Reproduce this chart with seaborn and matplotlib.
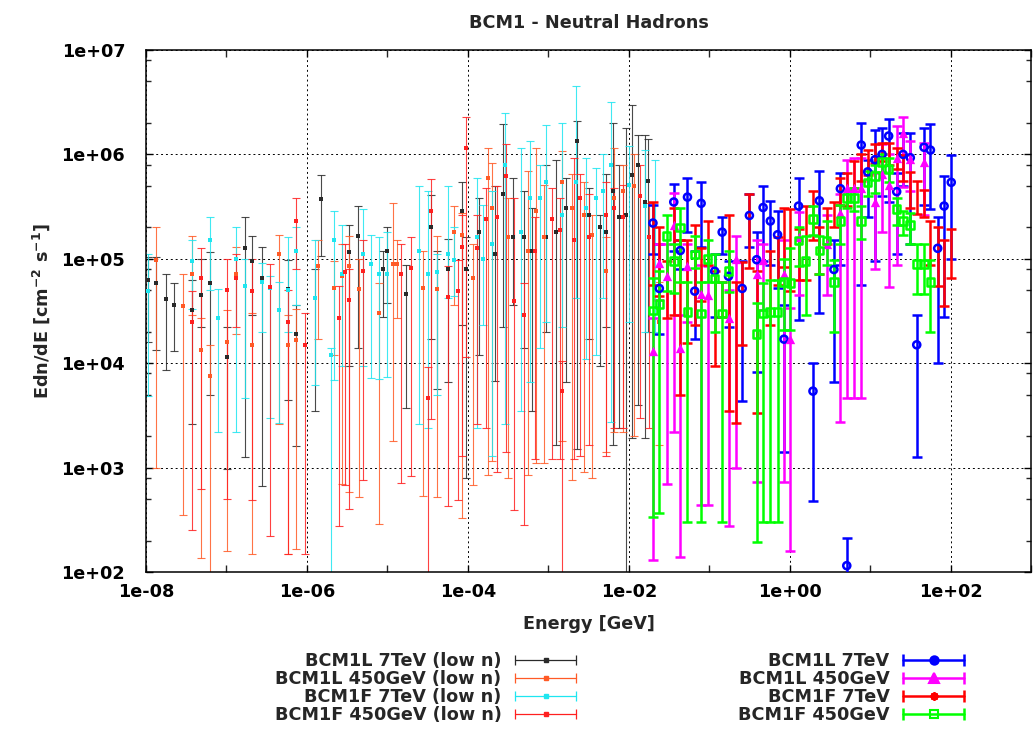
import numpy as np
import matplotlib
matplotlib.use("Agg")
import matplotlib.pyplot as plt
import seaborn as sns
from matplotlib.lines import Line2D
from matplotlib.legend_handler import HandlerLine2D
from matplotlib.ticker import LogLocator, FuncFormatter, NullFormatter

NA = np.nan

# ---- low statistics samples (each with its own energy points) ----
l7_low_e = [1.05e-8, 1.35e-8, 1.78e-8, 2.24e-8, 3.7e-8, 4.8e-8, 6.2e-8, 1.02e-7, 1.7e-7, 2.1e-7,
            2.75e-7, 5.75e-7, 7.4e-7, 1.26e-6, 1.5e-6, 3.3e-6, 4.3e-6, 8.9e-6, 1.0e-5, 1.7e-5,
            3.5e-5, 4.1e-5, 5.6e-5, 8.5e-5, 9.5e-5, 1.38e-4, 2.2e-4, 2.7e-4, 3.6e-4, 5.0e-4,
            6.2e-4, 9.3e-4, 1.26e-3, 1.66e-3, 2.3e-3, 3.2e-3, 4.4e-3, 5.2e-3, 6.3e-3, 7.6e-3,
            9.3e-3, 1.1e-2, 1.3e-2, 1.58e-2, 1.74e-2]
l7_low_y = [6.3e4, 5.9e4, 4.1e4, 3.6e4, 3.2e4, 4.5e4, 5.9e4, 1.15e4, 1.26e5, 9.5e4,
            6.6e4, 5.1e4, 1.9e4, 4.2e4, 3.7e5, 1.15e5, 1.66e5, 7.9e4, 1.2e5, 4.6e4,
            2.0e5, 7.4e4, 7.9e4, 2.9e5, 7.9e4, 1.8e5, 1.1e5, 4.2e5, 1.6e5, 1.6e5,
            1.2e5, 1.6e5, 1.8e5, 3.1e5, 1.35e6, 2.6e5, 2.0e5, 1.8e5, 4.5e5, 2.5e5,
            2.6e5, 6.3e5, 7.9e5, 3.5e5, 5.6e5]
l7_low_hi = [1.05e5, 1.05e5, 7.2e4, 5.8e4, 6.2e4, 1.0e5, 1.15e5, 2.2e4, 2.5e5, 1.66e5,
             1.3e5, 9.8e4, 3.6e4, 7.9e4, 6.3e5, 2.1e5, 3.2e5, 1.2e5, 2.0e5, 8.7e4,
             4.1e5, 1.2e5, 1.55e5, 5.5e5, 1.6e5, 3.8e5, 5.0e5, 1.95e6, 6.0e5, 4.5e5,
             3.1e5, 7.9e5, 8.9e5, 6.0e5, 2.1e6, 4.8e5, 2.6e5, 6.5e5, 2.0e6, 7.9e5,
             1.8e6, 2.95e6, 1.55e6, 1.55e6, 1.4e6]
l7_low_lo = [1.6e4, 1.35e4, 8.7e3, 1.3e4, 2.6e3, 2.2e4, 5.0e3, 9.8e2, 1.26e3, 2.9e4,
             6.6e2, 4.4e3, 1.6e3, 3.5e3, 1.07e5, 9.5e3, 1.4e4, 2.8e4, 3.8e4, 3.7e3,
             1.7e4, 5.6e3, 6.6e3, 2.3e4, 7.9e2, 1.2e4, 6.8e3, 2.2e4, 3.6e4, 1.4e4,
             3.5e3, 2.0e4, 1.66e3, 6.6e3, 1.5e3, 1.7e4, 9.5e3, 2.2e4, 1.66e3, 2.4e3,
             60, 1.9e3, 4.0e3, 1.9e3, 2.0e4]

l450_low_e = [1.35e-8, 2.9e-8, 3.7e-8, 4.8e-8, 6.2e-8, 1.02e-7, 1.3e-7, 2.1e-7, 4.5e-7, 5.75e-7,
              7.4e-7, 1.38e-6, 2.2e-6, 2.75e-6, 3.3e-6, 4.5e-6, 7.9e-6, 1.17e-5, 1.3e-5, 2.8e-5,
              4.1e-5, 6.8e-5, 8.5e-5, 1.15e-4, 1.78e-4, 2.0e-4, 3.2e-4, 5.6e-4, 7.1e-4, 8.9e-4,
              1.5e-3, 2.0e-3, 2.8e-3, 3.5e-3, 5.2e-3, 6.6e-3, 8.5e-3, 1.17e-2, 2.4e-2]
l450_low_y = [9.8e4, 3.5e4, 7.2e4, 1.35e4, 7.6e3, 1.6e4, 7.2e4, 1.5e4, 1.1e5, 1.5e4,
              1.66e4, 8.5e4, 5.2e4, 6.9e4, 8.5e4, 5.1e4, 3.0e4, 8.9e4, 8.9e4, 5.2e4,
              5.1e4, 1.8e5, 1.7e5, 6.6e4, 6.0e5, 3.1e5, 1.6e5, 1.2e5, 2.9e5, 1.6e5,
              5.5e5, 3.1e5, 2.6e5, 1.7e5, 7.6e4, 3.8e5, 4.5e5, 5.0e5, 2.5e4]
l450_low_hi = [2.0e5, 7.1e4, 1.66e5, 2.7e4, 1.5e4, 3.2e4, 1.3e5, 3.0e4, 1.7e5, 2.9e4,
               3.3e4, 1.5e5, 9.5e4, 1.4e5, 1.66e5, 1.0e5, 5.9e4, 3.4e5, 1.5e5, 1.2e5,
               1.66e5, 3.2e5, 2.75e5, 1.4e5, 1.15e6, 8.3e5, 3.8e5, 6.9e5, 1.15e6, 5.1e5,
               1.07e6, 6.5e5, 5.5e5, 2.6e5, 1.6e5, 1.15e6, 7.9e5, 1.0e6, 6.0e4]
l450_low_lo = [1.0e3, 3.5e2, 2.9e4, 1.35e2, 80, 1.6e2, 1.9e4, 1.5e2, 2.6e3, 1.5e2,
               1.66e2, 1.7e4, 1.2e4, 6.9e2, 5.8e2, 5.2e2, 2.9e2, 1.8e3, 2.7e4, 5.4e2,
               5.2e2, 3.6e4, 3.3e2, 6.8e2, 8.5e2, 1.15e3, 7.9e2, 8.5e2, 1.1e3, 1.1e3,
               1.8e3, 7.6e2, 9.1e2, 7.9e2, 1.4e3, 2.2e3, 2.2e3, 2.0e3, 1.66e3]

f7_low_e = [1.05e-8, 3.7e-8, 6.2e-8, 7.9e-8, 1.3e-7, 1.7e-7, 2.75e-7, 3.5e-7, 4.5e-7, 5.75e-7,
            7.4e-7, 1.26e-6, 2.0e-6, 2.2e-6, 2.75e-6, 5.0e-6, 6.3e-6, 7.9e-6, 1.0e-5, 2.45e-5,
            3.2e-5, 4.1e-5, 5.6e-5, 6.8e-5, 1.3e-4, 1.55e-4, 2.0e-4, 2.9e-4, 4.6e-4, 5.9e-4,
            7.8e-4, 9.3e-4, 1.5e-3, 2.2e-3, 2.95e-3, 3.9e-3, 4.8e-3, 6.0e-3, 1.02e-2, 1.58e-2,
            2.1e-2]
f7_low_y = [4.9e4, 9.5e4, 1.5e5, 2.7e4, 1.0e5, 5.5e4, 6.0e4, 5.2e4, 3.2e4, 5.0e4,
            1.2e5, 4.2e4, 1.2e4, 1.5e5, 7.1e4, 1.1e5, 8.9e4, 7.1e4, 7.1e4, 1.2e5,
            7.2e4, 7.4e4, 1.1e5, 9.8e4, 1.6e5, 1.0e5, 1.4e5, 7.9e5, 1.8e5, 3.8e5,
            3.8e5, 5.5e5, 2.6e5, 5.5e5, 3.1e5, 3.8e5, 4.5e5, 7.9e5, 5.1e5, 3.2e5,
            2.0e5]
f7_low_hi = [1.1e5, 1.5e5, 2.5e5, 5.1e4, 2.0e5, 1.0e5, 9.1e4, 6.9e4, 6.0e4, 1.6e5,
             2.0e5, 1.5e5, 1.4e4, 2.9e5, 2.1e5, 3.0e5, 1.7e5, 1.6e5, 1.8e5, 5.0e5,
             4.5e5, 1.1e5, 5.0e5, 2.0e5, 6.0e5, 3.3e5, 4.5e5, 2.5e6, 1.15e6, 1.35e6,
             7.9e5, 1.9e6, 2.0e6, 4.5e6, 9.3e5, 7.4e5, 1.0e6, 3.2e6, 1.2e6, 1.1e6,
             8.9e5]
f7_low_lo = [4.8e3, 3.3e4, 5.0e4, 2.2e3, 2.2e3, 4.6e3, 2.0e4, 3.0e3, 2.7e3, 2.0e4,
             3.6e4, 6.2e3, 63, 6.9e3, 9.3e3, 9.3e3, 7.2e3, 7.1e3, 7.4e3, 2.6e3,
             2.4e3, 5.0e3, 4.2e4, 4.4e4, 2.4e3, 2.3e4, 1.3e3, 2.6e3, 3.5e3, 6.6e3,
             1.4e4, 2.5e4, 2.2e4, 4.2e4, 1.1e4, 1.2e4, 4.2e4, 2.75e3, 2.5e4, 2.0e4,
             2.0e4]

f450_low_e = [3.7e-8, 4.8e-8, 1.02e-7, 1.3e-7, 2.1e-7, 3.5e-7, 5.75e-7, 7.4e-7, 9.5e-7, 2.5e-6,
              3.0e-6, 3.3e-6, 5.0e-6, 1.48e-5, 1.95e-5, 3.2e-5, 3.5e-5, 5.6e-5, 7.6e-5, 8.5e-5,
              9.5e-5, 1.3e-4, 1.7e-4, 2.3e-4, 3.0e-4, 3.8e-4, 5.0e-4, 6.8e-4, 1.1e-3, 1.4e-3,
              1.5e-3, 2.1e-3, 2.45e-3, 3.2e-3, 5.2e-3, 6.6e-3, 8.5e-3, 1.38e-2, 1.8e-2]
f450_low_y = [2.5e4, 6.5e4, 5.0e4, 6.6e4, 4.9e4, 5.4e4, 2.5e4, 2.3e5, 1.5e4, 2.7e4,
              7.4e4, 4.0e4, 7.6e4, 7.1e4, 8.1e4, 4.6e3, 2.9e5, 4.3e4, 4.9e4, 1.3e5,
              1.15e6, 1.26e5, 2.4e5, 2.5e5, 6.2e5, 3.9e4, 2.9e4, 1.2e5, 2.4e5, 1.9e5,
              5.4e3, 1.5e5, 3.8e5, 1.6e5, 2.6e5, 3.1e5, 2.5e5, 4.0e5, 1.6e5]
f450_low_hi = [4.9e4, 1.26e5, 1.0e5, 1.1e5, 1.0e5, 8.9e4, 5.0e4, 3.8e5, 3.0e4, 5.5e4,
               1.4e5, 7.9e4, 1.5e5, 1.4e5, 1.6e5, 9.1e3, 5.75e5, 8.5e4, 9.8e4, 2.6e5,
               2.3e6, 2.6e5, 4.8e5, 5.0e5, 1.26e6, 3.8e5, 5.9e4, 2.5e5, 4.8e5, 3.8e5,
               1.05e4, 9.3e5, 6.5e5, 4.2e5, 5.5e5, 4.8e5, 5.1e5, 8.0e5, 3.4e5]
f450_low_lo = [2.5e2, 6.3e2, 5.0e2, 2.2e4, 4.9e2, 2.2e2, 1.5e2, 7.9e4, 1.5e2, 2.75e2,
               6.8e2, 4.0e2, 7.6e2, 7.1e2, 8.3e2, 30, 2.9e3, 4.3e2, 4.9e2, 1.3e3,
               1.15e4, 2.6e3, 2.4e3, 9.1e2, 1.4e3, 3.9e2, 2.8e2, 1.2e3, 1.2e3, 1.2e3,
               30, 1.2e3, 1.3e3, 1.66e3, 1.3e3, 2.4e3, 2.4e3, 3.0e3, 2.4e3]

# ---- full statistics samples, common energy bins ----
energy_high = [0.0200, 0.0240, 0.0295, 0.0363, 0.0437, 0.0537, 0.0661, 0.0794, 0.0955, 0.117,
               0.145, 0.174, 0.214, 0.257, 0.316, 0.389, 0.468, 0.575, 0.708, 0.851,
               1.02, 1.29, 1.58, 1.95, 2.34, 2.88, 3.55, 4.27, 5.13, 6.31,
               7.76, 9.33, 11.5, 14.1, 17.0, 21.4, 25.7, 31.6, 38.0, 46.8,
               56.2, 69.2, 83.2, 102]

l7_y = [2.2e5, 5.2e4, NA, 3.5e5, 1.2e5, 3.9e5, 4.9e4, 3.4e5, NA, 7.6e4,
        1.8e5, 6.8e4, NA, 5.2e4, 2.6e5, 9.8e4, 3.1e5, 2.3e5, 1.7e5, 1.7e4,
        NA, 3.2e5, NA, 5.4e3, 3.6e5, NA, 7.9e4, 4.7e5, 1.15e2, NA,
        1.23e6, 6.8e5, 8.9e5, 1.0e6, 1.5e6, 4.4e5, 1.0e6, 9.3e5, 1.5e4, 1.17e6,
        1.1e6, 1.26e5, 3.2e5, 5.4e5]
l7_hi = [3.3e5, 1.4e5, NA, 5.2e5, 1.5e5, 6.0e5, 1.2e5, 5.4e5, NA, 1.1e5,
         2.5e5, 9.5e4, NA, 9.5e4, 4.2e5, 1.8e5, 5.0e5, 3.6e5, 2.9e5, 3.6e4,
         NA, 6.0e5, NA, 1.0e4, 6.9e5, NA, 1.5e5, 6.6e5, 2.1e2, NA,
         2.0e6, 8.9e5, 1.7e6, 1.8e6, 2.2e6, 6.6e5, 1.6e6, 1.6e6, 2.9e4, 1.8e6,
         1.95e6, 2.5e5, 6.2e5, 9.8e5]
l7_lo = [1.1e5, 1.9e4, NA, 1.2e5, 7.9e4, 1.8e5, 1.7e4, 1.3e5, NA, 2.8e4,
         1.1e5, 2.2e4, NA, 4.3e3, 1.3e5, 8.3e3, 9.5e4, 8.7e4, 5.2e4, 1.4e3,
         NA, 2.6e4, NA, 4.8e2, 3.0e4, NA, 6.6e3, 8.7e4, 80, NA,
         5.6e4, 2.5e5, 9.5e4, 4.0e5, 3.5e5, 1.1e5, 5.0e5, 1.4e5, 1.26e3, 3.3e5,
         3.0e5, 1.0e4, 2.75e4, 1.0e5]

l450_y = [1.3e4, 9.1e4, 6.8e4, 2.1e5, 1.4e4, 8.5e4, NA, 4.6e4, 4.5e4, NA,
          NA, 2.7e4, 1.0e5, NA, NA, 7.2e4, 9.8e4, NA, NA, 7.2e4,
          1.7e4, 1.6e5, NA, NA, NA, 1.4e5, NA, 2.75e5, 4.8e5, 4.8e5,
          4.8e5, NA, 3.5e5, 6.5e5, 5.1e5, 9.3e5, 1.6e6, 9.1e5, NA, 8.5e5,
          NA, NA, NA, NA]
l450_hi = [2.7e4, 1.4e5, 1.4e5, 4.3e5, 2.9e4, 1.4e5, NA, 8.7e4, 8.5e4, NA,
           NA, 5.0e4, 1.66e5, NA, NA, 1.5e5, 1.4e5, NA, NA, 1.5e5,
           3.4e4, 2.8e5, NA, NA, NA, 2.6e5, NA, 4.2e5, 8.9e5, 9.3e5,
           9.3e5, NA, 6.6e5, 1.26e6, 1.0e6, 1.86e6, 2.3e6, 1.35e6, NA, 1.3e6,
           NA, NA, NA, NA]
l450_lo = [1.3e2, 4.0e4, 6.9e2, 2.2e3, 1.4e2, 2.5e4, NA, 4.4e2, 4.4e2, NA,
           NA, 2.75e2, 1.0e3, NA, NA, 7.2e2, 3.2e4, NA, NA, 7.2e2,
           1.6e2, 4.5e4, NA, NA, NA, 4.5e4, NA, 2.75e3, 4.6e3, 4.6e3,
           4.6e3, NA, 7.9e4, 1.8e5, 5.4e4, 8.7e4, 4.9e5, 4.5e5, NA, 2.6e5,
           NA, NA, NA, NA]

f7_y = [2.3e5, 1.26e5, 7.2e4, 2.0e5, 6.0e4, 8.3e4, 1.4e5, 7.2e4, 1.55e5, 4.2e4,
        4.4e4, 1.6e5, 3.2e4, 5.4e4, 2.6e5, 4.1e4, NA, 6.6e4, 9.5e4, 2.1e5,
        1.6e5, 1.26e5, 2.2e5, 3.5e5, 1.4e5, 2.2e5, 2.6e5, 4.7e5, 5.1e5, 6.6e5,
        7.9e5, 8.9e5, 1.1e6, 1.1e6, 1.1e6, 9.5e5, 7.8e5, 5.1e5, 4.1e5, 3.5e5,
        1.66e5, 1.26e5, 9.5e4, 1.3e5]
f7_hi = [3.5e5, 2.0e5, 9.5e4, 3.1e5, 1.5e5, 1.5e5, 2.1e5, 1.26e5, 2.3e5, 7.6e4,
         6.0e4, 2.6e5, 6.0e4, 9.3e4, 4.2e5, 7.6e4, NA, 1.2e5, 1.6e5, 3.1e5,
         3.0e5, 1.95e5, 3.2e5, 4.5e5, 2.0e5, 3.1e5, 3.5e5, 6.0e5, 6.6e5, 8.7e5,
         1.0e6, 1.1e6, 1.26e6, 1.3e6, 1.3e6, 1.15e6, 9.8e5, 6.8e5, 5.6e5, 4.6e5,
         2.3e5, 2.0e5, 1.5e5, 1.95e5]
f7_lo = [5.6e4, 4.4e4, 2.7e4, 2.9e4, 5.0e3, 1.55e4, 2.3e4, 3.9e4, 8.7e4, 9.5e3,
         2.8e4, 3.5e3, 2.7e3, 1.5e4, 8.1e4, 3.3e3, NA, 2.3e4, 5.6e4, 8.3e4,
         4.9e4, 6.3e4, 6.3e4, 1.5e5, 7.2e4, 1.4e5, 2.0e5, 3.3e5, 3.2e5, 4.8e5,
         5.6e5, 6.3e5, 8.3e5, 8.7e5, 7.9e5, 7.2e5, 5.6e5, 3.1e5, 2.7e5, 2.5e5,
         8.7e4, 5.5e4, 3.5e4, 6.6e4]

f450_y = [3.2e4, 3.7e4, 1.66e5, 9.5e4, 2.0e5, 3.1e4, 1.1e5, 3.0e4, 1.0e5, 6.5e4,
          3.0e4, 7.6e4, NA, NA, NA, 1.9e4, 3.0e4, 3.1e4, 3.1e4, 6.0e4,
          5.9e4, 1.5e5, 9.5e4, 2.4e5, 1.2e5, 1.5e5, 6.0e4, 2.3e5, 3.8e5, 3.8e5,
          2.3e5, 5.4e5, 6.2e5, 8.5e5, 7.2e5, 3.0e5, 2.3e5, 2.1e5, 8.9e4, 8.9e4,
          6.0e4, NA, NA, NA]
f450_hi = [6.6e4, 7.6e4, 2.6e5, 1.4e5, 3.1e5, 6.0e4, 1.66e5, 6.0e4, 1.5e5, 1.1e5,
           6.0e4, 1.2e5, NA, NA, NA, 3.8e4, 5.9e4, 6.2e4, 6.2e4, 1.0e5,
           1.26e5, 2.0e5, 1.66e5, 3.2e5, 1.66e5, 2.3e5, 9.8e4, 3.3e5, 4.6e5, 4.8e5,
           3.2e5, 6.9e5, 7.9e5, 1.0e6, 9.3e5, 3.8e5, 2.9e5, 2.75e5, 1.4e5, 1.4e5,
           9.8e4, NA, NA, NA]
f450_lo = [3.4e2, 3.7e2, 4.9e4, 4.7e4, 6.0e4, 3.0e2, 8.1e4, 3.0e2, 6.0e4, 2.0e4,
           3.0e2, 4.8e4, NA, NA, NA, 1.95e2, 3.0e2, 3.0e2, 3.0e2, 2.1e4,
           2.1e4, 8.5e4, 2.9e4, 1.7e5, 7.2e4, 8.7e4, 2.0e4, 1.4e5, 3.1e5, 2.9e5,
           1.55e5, 4.0e5, 4.3e5, 6.8e5, 5.5e5, 2.1e5, 1.7e5, 1.4e5, 4.6e4, 4.6e4,
           2.0e4, NA, NA, NA]

low_series = [
    ("BCM1L 7TeV (low n)", l7_low_e, l7_low_y, l7_low_lo, l7_low_hi, "#2a2a2a"),
    ("BCM1L 450GeV (low n)", l450_low_e, l450_low_y, l450_low_lo, l450_low_hi, "#ff5a26"),
    ("BCM1F 7TeV (low n)", f7_low_e, f7_low_y, f7_low_lo, f7_low_hi, "#1ee6f0"),
    ("BCM1F 450GeV (low n)", f450_low_e, f450_low_y, f450_low_lo, f450_low_hi, "#ff2020"),
]
# label, y, lo, hi, colour, marker, size, filled
high_series = [
    ("BCM1L 7TeV", l7_y, l7_lo, l7_hi, "#0000ff", "o", 26, False),
    ("BCM1L 450GeV", l450_y, l450_lo, l450_hi, "#ff00ff", "^", 45, True),
    ("BCM1F 7TeV", f7_y, f7_lo, f7_hi, "#ff0000", (8, 2, 0), 55, False),
    ("BCM1F 450GeV", f450_y, f450_lo, f450_hi, "#00ff00", "s", 30, False),
]

sns.set_theme(style="ticks", rc={
    "xtick.direction": "in", "ytick.direction": "in",
    "xtick.top": True, "ytick.right": True,
    "axes.edgecolor": "black", "axes.linewidth": 1.1,
})
plt.rcParams["font.family"] = ["DejaVu Sans"]
plt.rcParams["font.weight"] = "bold"
plt.rcParams["font.size"] = 12.7

fig = plt.figure(figsize=(10.33, 7.34), dpi=100)
ax = fig.add_axes([146 / 1033, 162 / 734, 885 / 1033, 522 / 734])
ax.set_xscale("log")
ax.set_yscale("log")

low_handles, low_labels, hmap = [], [], {}
for label, e, y, lo, hi, col in low_series:
    e, y, lo, hi = map(np.asarray, (e, y, lo, hi))
    ax.errorbar(e, y, yerr=[y - lo, hi - y], fmt="none", ecolor=col, elinewidth=0.8,
                capsize=3.0, capthick=0.8, alpha=0.85, zorder=2)
    sns.scatterplot(x=e, y=y, ax=ax, marker="s", s=6, color=col, edgecolor=col,
                    linewidth=0, zorder=3, legend=False)
    cap = Line2D([], [], color=col, lw=0.9, marker="|", markersize=7, markeredgewidth=0.9)
    dot = Line2D([], [], color=col, linestyle="none", marker="s", markersize=2.5)
    hmap[cap] = HandlerLine2D(numpoints=2, marker_pad=0)
    hmap[dot] = HandlerLine2D(numpoints=1)
    low_handles.append((cap, dot))
    low_labels.append(label)

e_hi = np.asarray(energy_high)
high_handles, high_labels = [], []
for label, y, lo, hi, col, mk, size, filled in high_series:
    y, lo, hi = map(np.asarray, (y, lo, hi))
    ax.errorbar(e_hi, y, yerr=[y - lo, hi - y], fmt="none", ecolor=col, elinewidth=1.8,
                capsize=3.6, capthick=1.8, zorder=4)
    ok = ~np.isnan(y)
    sns.scatterplot(x=e_hi[ok], y=y[ok], ax=ax, marker=mk, s=size,
                    facecolor=col if filled else "none", edgecolor=col,
                    linewidth=0 if filled else 1.8, zorder=5, legend=False)
    cap = Line2D([], [], color=col, lw=1.8, marker="|", markersize=8, markeredgewidth=1.8)
    dot = Line2D([], [], color=col, linestyle="none", marker=mk, markersize=7 if filled else 6,
                 markerfacecolor=col if mk in ("o", "^") else "none",
                 markeredgecolor=col, markeredgewidth=1.5)
    hmap[cap] = HandlerLine2D(numpoints=2, marker_pad=0)
    hmap[dot] = HandlerLine2D(numpoints=1)
    high_handles.append((cap, dot))
    high_labels.append(label)

ax.set_xlim(1e-8, 1e3)
ax.set_ylim(1e2, 1e7)


def exp_label(v, pos):
    # gnuplot style "1e-08"; blank for anything outside the axis range
    if v < 0.99e-8 or v > 1.01e7:
        return ""
    return f"{v:.0e}"


fmt = FuncFormatter(exp_label)
ax.xaxis.set_major_locator(LogLocator(base=100.0, numticks=20))
ax.xaxis.set_minor_locator(LogLocator(base=100.0, subs=(10.0,), numticks=20))
ax.xaxis.set_major_formatter(fmt)
ax.xaxis.set_minor_formatter(NullFormatter())
ax.yaxis.set_major_locator(LogLocator(base=10.0, numticks=20))
ax.yaxis.set_minor_locator(LogLocator(base=10.0, subs=(2.0, 5.0, 8.0), numticks=20))
ax.yaxis.set_major_formatter(fmt)
ax.yaxis.set_minor_formatter(NullFormatter())
ax.tick_params(axis="both", which="major", length=5, width=1.0, labelsize=12.7, colors="black")
ax.tick_params(axis="x", which="minor", length=5, width=1.0)
ax.tick_params(axis="y", which="minor", length=3.5, width=1.0)
ax.tick_params(axis="x", which="major", pad=8)
ax.tick_params(axis="y", which="major", pad=15)
ax.grid(True, which="major", color="black", linestyle=(0, (2, 3)), linewidth=0.7)

ax.set_title("BCM1 - Neutral Hadrons", fontsize=12.7, fontweight="bold", pad=16)
ax.set_xlabel("Energy [GeV]", fontsize=12.7, fontweight="bold", labelpad=10)
ax.set_ylabel(r"Edn/dE [cm$^{\mathbf{-2}}$ s$^{\mathbf{-1}}$]", fontsize=12.7,
              fontweight="bold", labelpad=7)

common = dict(loc="upper right", markerfirst=False, frameon=False, handlelength=3.44,
              handletextpad=0.78, labelspacing=0.0, borderpad=0, borderaxespad=0,
              handler_map=hmap, prop={"size": 12.7, "weight": "bold"})
fig.legend(low_handles, low_labels, bbox_to_anchor=(576 / 1033, 1 - 652 / 734), **common)
fig.legend(high_handles, high_labels, bbox_to_anchor=(964 / 1033, 1 - 652 / 734), **common)

fig.savefig("out.png", dpi=100)
